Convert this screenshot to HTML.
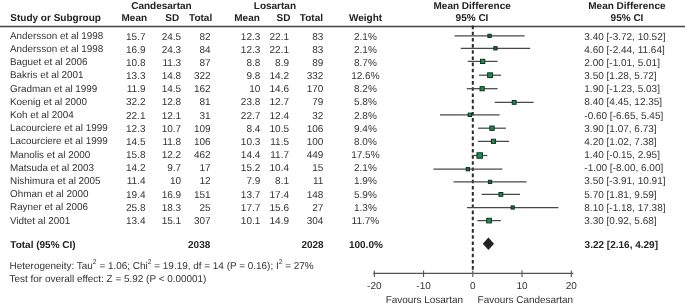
<!DOCTYPE html>
<html><head><meta charset="utf-8"><style>
html,body{margin:0;padding:0;background:#fff;width:685px;height:306px;overflow:hidden}
svg{display:block;will-change:transform}
text{font-family:"Liberation Sans",sans-serif}
</style></head><body>
<svg width="685" height="306" viewBox="0 0 685 306" text-rendering="geometricPrecision" font-size="10.0">
<rect width="685" height="306" fill="#fff"/>
<text x="161.45" y="9.00" text-anchor="middle" font-weight="bold" fill="#222">Candesartan</text>
<text x="274.90" y="9.00" text-anchor="middle" font-weight="bold" fill="#222">Losartan</text>
<text x="472.15" y="9.00" text-anchor="middle" font-weight="bold" fill="#222">Mean Difference</text>
<text x="626.90" y="9.00" text-anchor="middle" font-weight="bold" fill="#222">Mean Difference</text>
<text x="10.30" y="21.00" text-anchor="start" font-weight="bold" fill="#222">Study or Subgroup</text>
<text x="147.10" y="21.00" text-anchor="end" font-weight="bold" fill="#222">Mean</text>
<text x="179.20" y="21.00" text-anchor="end" font-weight="bold" fill="#222">SD</text>
<text x="212.20" y="21.00" text-anchor="end" font-weight="bold" fill="#222">Total</text>
<text x="259.80" y="21.00" text-anchor="end" font-weight="bold" fill="#222">Mean</text>
<text x="290.40" y="21.00" text-anchor="end" font-weight="bold" fill="#222">SD</text>
<text x="323.00" y="21.00" text-anchor="end" font-weight="bold" fill="#222">Total</text>
<text x="365.50" y="21.00" text-anchor="middle" font-weight="bold" fill="#222">Weight</text>
<text x="472.00" y="21.00" text-anchor="middle" font-weight="bold" fill="#222">95% CI</text>
<text x="627.00" y="21.00" text-anchor="middle" font-weight="bold" fill="#222">95% CI</text>
<line x1="0" y1="26.4" x2="685" y2="26.4" stroke="#444" stroke-width="1.5"/>
<line x1="472.8" y1="25.6" x2="472.8" y2="271" stroke="#2a2a2a" stroke-width="2.0" stroke-dasharray="3.6,2.566"/>
<text x="10.00" y="38.70" text-anchor="start" font-size="9.9" fill="#333">Andersson et al 1998</text>
<text x="145.50" y="39.50" text-anchor="end" font-size="10.0" fill="#333">15.7</text>
<text x="181.20" y="39.50" text-anchor="end" font-size="10.0" fill="#333">24.5</text>
<text x="210.70" y="39.50" text-anchor="end" font-size="10.0" fill="#333">82</text>
<text x="260.30" y="39.50" text-anchor="end" font-size="10.0" fill="#333">12.3</text>
<text x="289.00" y="39.50" text-anchor="end" font-size="10.0" fill="#333">22.1</text>
<text x="323.40" y="39.50" text-anchor="end" font-size="10.0" fill="#333">83</text>
<text x="365.40" y="39.50" text-anchor="middle" font-size="10.0" fill="#333">2.1%</text>
<text x="584.30" y="39.50" text-anchor="start" font-size="10.0" fill="#333">3.40 [-3.72, 10.52]</text>
<line x1="454.48" y1="35.90" x2="524.61" y2="35.90" stroke="#484848" stroke-width="1.25"/>
<rect x="487.90" y="34.25" width="3.29" height="3.29" fill="#1e6a45" stroke="#10301f" stroke-width="1.0"/>
<text x="10.00" y="51.91" text-anchor="start" font-size="9.9" fill="#333">Andersson et al 1998</text>
<text x="145.50" y="52.67" text-anchor="end" font-size="10.0" fill="#333">16.9</text>
<text x="181.20" y="52.67" text-anchor="end" font-size="10.0" fill="#333">24.3</text>
<text x="210.70" y="52.67" text-anchor="end" font-size="10.0" fill="#333">84</text>
<text x="260.30" y="52.67" text-anchor="end" font-size="10.0" fill="#333">12.3</text>
<text x="289.00" y="52.67" text-anchor="end" font-size="10.0" fill="#333">22.1</text>
<text x="323.40" y="52.67" text-anchor="end" font-size="10.0" fill="#333">83</text>
<text x="365.40" y="52.67" text-anchor="middle" font-size="10.0" fill="#333">2.1%</text>
<text x="584.30" y="52.67" text-anchor="start" font-size="10.0" fill="#333">4.60 [-2.44, 11.64]</text>
<line x1="460.78" y1="48.30" x2="530.13" y2="48.30" stroke="#484848" stroke-width="1.25"/>
<rect x="493.81" y="46.65" width="3.29" height="3.29" fill="#1e6a45" stroke="#10301f" stroke-width="1.0"/>
<text x="10.00" y="65.12" text-anchor="start" font-size="9.9" fill="#333">Baguet et al 2006</text>
<text x="145.50" y="65.84" text-anchor="end" font-size="10.0" fill="#333">10.8</text>
<text x="181.20" y="65.84" text-anchor="end" font-size="10.0" fill="#333">11.3</text>
<text x="210.70" y="65.84" text-anchor="end" font-size="10.0" fill="#333">87</text>
<text x="260.30" y="65.84" text-anchor="end" font-size="10.0" fill="#333">8.8</text>
<text x="289.00" y="65.84" text-anchor="end" font-size="10.0" fill="#333">8.9</text>
<text x="323.40" y="65.84" text-anchor="end" font-size="10.0" fill="#333">89</text>
<text x="365.40" y="65.84" text-anchor="middle" font-size="10.0" fill="#333">8.7%</text>
<text x="584.30" y="65.84" text-anchor="start" font-size="10.0" fill="#333">2.00 [-1.01, 5.01]</text>
<line x1="467.83" y1="61.40" x2="497.47" y2="61.40" stroke="#484848" stroke-width="1.25"/>
<rect x="480.54" y="59.29" width="4.22" height="4.22" fill="#1b8e53" stroke="#10301f" stroke-width="1.0"/>
<text x="10.00" y="78.33" text-anchor="start" font-size="9.9" fill="#333">Bakris et al 2001</text>
<text x="145.50" y="79.01" text-anchor="end" font-size="10.0" fill="#333">13.3</text>
<text x="181.20" y="79.01" text-anchor="end" font-size="10.0" fill="#333">14.8</text>
<text x="210.70" y="79.01" text-anchor="end" font-size="10.0" fill="#333">322</text>
<text x="260.30" y="79.01" text-anchor="end" font-size="10.0" fill="#333">9.8</text>
<text x="289.00" y="79.01" text-anchor="end" font-size="10.0" fill="#333">14.2</text>
<text x="323.40" y="79.01" text-anchor="end" font-size="10.0" fill="#333">332</text>
<text x="365.40" y="79.01" text-anchor="middle" font-size="10.0" fill="#333">12.6%</text>
<text x="584.30" y="79.01" text-anchor="start" font-size="10.0" fill="#333">3.50 [1.28, 5.72]</text>
<line x1="479.10" y1="75.20" x2="500.97" y2="75.20" stroke="#484848" stroke-width="1.25"/>
<rect x="487.66" y="72.82" width="4.76" height="4.76" fill="#1b8e53" stroke="#10301f" stroke-width="1.0"/>
<text x="10.00" y="91.54" text-anchor="start" font-size="9.9" fill="#333">Gradman et al 1999</text>
<text x="145.50" y="92.18" text-anchor="end" font-size="10.0" fill="#333">11.9</text>
<text x="181.20" y="92.18" text-anchor="end" font-size="10.0" fill="#333">14.5</text>
<text x="210.70" y="92.18" text-anchor="end" font-size="10.0" fill="#333">162</text>
<text x="260.30" y="92.18" text-anchor="end" font-size="10.0" fill="#333">10</text>
<text x="289.00" y="92.18" text-anchor="end" font-size="10.0" fill="#333">14.6</text>
<text x="323.40" y="92.18" text-anchor="end" font-size="10.0" fill="#333">170</text>
<text x="365.40" y="92.18" text-anchor="middle" font-size="10.0" fill="#333">8.2%</text>
<text x="584.30" y="92.18" text-anchor="start" font-size="10.0" fill="#333">1.90 [-1.23, 5.03]</text>
<line x1="466.74" y1="88.70" x2="497.57" y2="88.70" stroke="#484848" stroke-width="1.25"/>
<rect x="480.08" y="86.63" width="4.15" height="4.15" fill="#1b8e53" stroke="#10301f" stroke-width="1.0"/>
<text x="10.00" y="104.75" text-anchor="start" font-size="9.9" fill="#333">Koenig et al 2000</text>
<text x="145.50" y="105.35" text-anchor="end" font-size="10.0" fill="#333">32.2</text>
<text x="181.20" y="105.35" text-anchor="end" font-size="10.0" fill="#333">12.8</text>
<text x="210.70" y="105.35" text-anchor="end" font-size="10.0" fill="#333">81</text>
<text x="260.30" y="105.35" text-anchor="end" font-size="10.0" fill="#333">23.8</text>
<text x="289.00" y="105.35" text-anchor="end" font-size="10.0" fill="#333">12.7</text>
<text x="323.40" y="105.35" text-anchor="end" font-size="10.0" fill="#333">79</text>
<text x="365.40" y="105.35" text-anchor="middle" font-size="10.0" fill="#333">5.8%</text>
<text x="584.30" y="105.35" text-anchor="start" font-size="10.0" fill="#333">8.40 [4.45, 12.35]</text>
<line x1="494.72" y1="102.40" x2="533.62" y2="102.40" stroke="#484848" stroke-width="1.25"/>
<rect x="512.26" y="100.49" width="3.81" height="3.81" fill="#1b8e53" stroke="#10301f" stroke-width="1.0"/>
<text x="10.00" y="117.96" text-anchor="start" font-size="9.9" fill="#333">Koh et al 2004</text>
<text x="145.50" y="118.52" text-anchor="end" font-size="10.0" fill="#333">22.1</text>
<text x="181.20" y="118.52" text-anchor="end" font-size="10.0" fill="#333">12.1</text>
<text x="210.70" y="118.52" text-anchor="end" font-size="10.0" fill="#333">31</text>
<text x="260.30" y="118.52" text-anchor="end" font-size="10.0" fill="#333">22.7</text>
<text x="289.00" y="118.52" text-anchor="end" font-size="10.0" fill="#333">12.4</text>
<text x="323.40" y="118.52" text-anchor="end" font-size="10.0" fill="#333">32</text>
<text x="365.40" y="118.52" text-anchor="middle" font-size="10.0" fill="#333">2.8%</text>
<text x="584.30" y="118.52" text-anchor="start" font-size="10.0" fill="#333">-0.60 [-6.65, 5.45]</text>
<line x1="440.05" y1="114.80" x2="499.64" y2="114.80" stroke="#484848" stroke-width="1.25"/>
<rect x="468.15" y="113.10" width="3.39" height="3.39" fill="#1b8e53" stroke="#10301f" stroke-width="1.0"/>
<text x="10.00" y="131.17" text-anchor="start" font-size="9.9" fill="#333">Lacourciere et al 1999</text>
<text x="145.50" y="131.69" text-anchor="end" font-size="10.0" fill="#333">12.3</text>
<text x="181.20" y="131.69" text-anchor="end" font-size="10.0" fill="#333">10.7</text>
<text x="210.70" y="131.69" text-anchor="end" font-size="10.0" fill="#333">109</text>
<text x="260.30" y="131.69" text-anchor="end" font-size="10.0" fill="#333">8.4</text>
<text x="289.00" y="131.69" text-anchor="end" font-size="10.0" fill="#333">10.5</text>
<text x="323.40" y="131.69" text-anchor="end" font-size="10.0" fill="#333">106</text>
<text x="365.40" y="131.69" text-anchor="middle" font-size="10.0" fill="#333">9.4%</text>
<text x="584.30" y="131.69" text-anchor="start" font-size="10.0" fill="#333">3.90 [1.07, 6.73]</text>
<line x1="478.07" y1="128.20" x2="505.95" y2="128.20" stroke="#484848" stroke-width="1.25"/>
<rect x="489.85" y="126.04" width="4.32" height="4.32" fill="#1b8e53" stroke="#10301f" stroke-width="1.0"/>
<text x="10.00" y="144.38" text-anchor="start" font-size="9.9" fill="#333">Lacourciere et al 1999</text>
<text x="145.50" y="144.86" text-anchor="end" font-size="10.0" fill="#333">14.5</text>
<text x="181.20" y="144.86" text-anchor="end" font-size="10.0" fill="#333">11.8</text>
<text x="210.70" y="144.86" text-anchor="end" font-size="10.0" fill="#333">106</text>
<text x="260.30" y="144.86" text-anchor="end" font-size="10.0" fill="#333">10.3</text>
<text x="289.00" y="144.86" text-anchor="end" font-size="10.0" fill="#333">11.5</text>
<text x="323.40" y="144.86" text-anchor="end" font-size="10.0" fill="#333">100</text>
<text x="365.40" y="144.86" text-anchor="middle" font-size="10.0" fill="#333">8.0%</text>
<text x="584.30" y="144.86" text-anchor="start" font-size="10.0" fill="#333">4.20 [1.02, 7.38]</text>
<line x1="477.82" y1="141.30" x2="509.15" y2="141.30" stroke="#484848" stroke-width="1.25"/>
<rect x="491.43" y="139.24" width="4.12" height="4.12" fill="#1b8e53" stroke="#10301f" stroke-width="1.0"/>
<text x="10.00" y="157.59" text-anchor="start" font-size="9.9" fill="#333">Manolis et al 2000</text>
<text x="145.50" y="158.03" text-anchor="end" font-size="10.0" fill="#333">15.8</text>
<text x="181.20" y="158.03" text-anchor="end" font-size="10.0" fill="#333">12.2</text>
<text x="210.70" y="158.03" text-anchor="end" font-size="10.0" fill="#333">462</text>
<text x="260.30" y="158.03" text-anchor="end" font-size="10.0" fill="#333">14.4</text>
<text x="289.00" y="158.03" text-anchor="end" font-size="10.0" fill="#333">11.7</text>
<text x="323.40" y="158.03" text-anchor="end" font-size="10.0" fill="#333">449</text>
<text x="365.40" y="158.03" text-anchor="middle" font-size="10.0" fill="#333">17.5%</text>
<text x="584.30" y="158.03" text-anchor="start" font-size="10.0" fill="#333">1.40 [-0.15, 2.95]</text>
<line x1="472.06" y1="155.50" x2="487.33" y2="155.50" stroke="#484848" stroke-width="1.25"/>
<rect x="476.97" y="152.78" width="5.45" height="5.45" fill="#1b8e53" stroke="#10301f" stroke-width="1.0"/>
<text x="10.00" y="170.80" text-anchor="start" font-size="9.9" fill="#333">Matsuda et al 2003</text>
<text x="145.50" y="171.20" text-anchor="end" font-size="10.0" fill="#333">14.2</text>
<text x="181.20" y="171.20" text-anchor="end" font-size="10.0" fill="#333">9.7</text>
<text x="210.70" y="171.20" text-anchor="end" font-size="10.0" fill="#333">17</text>
<text x="260.30" y="171.20" text-anchor="end" font-size="10.0" fill="#333">15.2</text>
<text x="289.00" y="171.20" text-anchor="end" font-size="10.0" fill="#333">10.4</text>
<text x="323.40" y="171.20" text-anchor="end" font-size="10.0" fill="#333">15</text>
<text x="365.40" y="171.20" text-anchor="middle" font-size="10.0" fill="#333">2.1%</text>
<text x="584.30" y="171.20" text-anchor="start" font-size="10.0" fill="#333">-1.00 [-8.00, 6.00]</text>
<line x1="433.40" y1="169.20" x2="502.35" y2="169.20" stroke="#484848" stroke-width="1.25"/>
<rect x="466.23" y="167.55" width="3.29" height="3.29" fill="#1e6a45" stroke="#10301f" stroke-width="1.0"/>
<text x="10.00" y="184.01" text-anchor="start" font-size="9.9" fill="#333">Nishimura et al 2005</text>
<text x="145.50" y="184.37" text-anchor="end" font-size="10.0" fill="#333">11.4</text>
<text x="181.20" y="184.37" text-anchor="end" font-size="10.0" fill="#333">10</text>
<text x="210.70" y="184.37" text-anchor="end" font-size="10.0" fill="#333">12</text>
<text x="260.30" y="184.37" text-anchor="end" font-size="10.0" fill="#333">7.9</text>
<text x="289.00" y="184.37" text-anchor="end" font-size="10.0" fill="#333">8.1</text>
<text x="323.40" y="184.37" text-anchor="end" font-size="10.0" fill="#333">11</text>
<text x="365.40" y="184.37" text-anchor="middle" font-size="10.0" fill="#333">1.9%</text>
<text x="584.30" y="184.37" text-anchor="start" font-size="10.0" fill="#333">3.50 [-3.91, 10.91]</text>
<line x1="453.54" y1="181.90" x2="526.53" y2="181.90" stroke="#484848" stroke-width="1.25"/>
<rect x="488.40" y="180.27" width="3.27" height="3.27" fill="#1e6a45" stroke="#10301f" stroke-width="1.0"/>
<text x="10.00" y="197.22" text-anchor="start" font-size="9.9" fill="#333">Ohman et al 2000</text>
<text x="145.50" y="197.54" text-anchor="end" font-size="10.0" fill="#333">19.4</text>
<text x="181.20" y="197.54" text-anchor="end" font-size="10.0" fill="#333">16.9</text>
<text x="210.70" y="197.54" text-anchor="end" font-size="10.0" fill="#333">151</text>
<text x="260.30" y="197.54" text-anchor="end" font-size="10.0" fill="#333">13.7</text>
<text x="289.00" y="197.54" text-anchor="end" font-size="10.0" fill="#333">17.4</text>
<text x="323.40" y="197.54" text-anchor="end" font-size="10.0" fill="#333">148</text>
<text x="365.40" y="197.54" text-anchor="middle" font-size="10.0" fill="#333">5.9%</text>
<text x="584.30" y="197.54" text-anchor="start" font-size="10.0" fill="#333">5.70 [1.81, 9.59]</text>
<line x1="481.71" y1="194.40" x2="520.03" y2="194.40" stroke="#484848" stroke-width="1.25"/>
<rect x="498.96" y="192.49" width="3.83" height="3.83" fill="#1b8e53" stroke="#10301f" stroke-width="1.0"/>
<text x="10.00" y="210.43" text-anchor="start" font-size="9.9" fill="#333">Rayner et al 2006</text>
<text x="145.50" y="210.71" text-anchor="end" font-size="10.0" fill="#333">25.8</text>
<text x="181.20" y="210.71" text-anchor="end" font-size="10.0" fill="#333">18.3</text>
<text x="210.70" y="210.71" text-anchor="end" font-size="10.0" fill="#333">25</text>
<text x="260.30" y="210.71" text-anchor="end" font-size="10.0" fill="#333">17.7</text>
<text x="289.00" y="210.71" text-anchor="end" font-size="10.0" fill="#333">15.6</text>
<text x="323.40" y="210.71" text-anchor="end" font-size="10.0" fill="#333">27</text>
<text x="365.40" y="210.71" text-anchor="middle" font-size="10.0" fill="#333">1.3%</text>
<text x="584.30" y="210.71" text-anchor="start" font-size="10.0" fill="#333">8.10 [-1.18, 17.38]</text>
<line x1="466.99" y1="207.50" x2="558.40" y2="207.50" stroke="#484848" stroke-width="1.25"/>
<rect x="511.10" y="205.91" width="3.18" height="3.18" fill="#1e6a45" stroke="#10301f" stroke-width="1.0"/>
<text x="10.00" y="223.64" text-anchor="start" font-size="9.9" fill="#333">Vidtet al 2001</text>
<text x="145.50" y="223.88" text-anchor="end" font-size="10.0" fill="#333">13.4</text>
<text x="181.20" y="223.88" text-anchor="end" font-size="10.0" fill="#333">15.1</text>
<text x="210.70" y="223.88" text-anchor="end" font-size="10.0" fill="#333">307</text>
<text x="260.30" y="223.88" text-anchor="end" font-size="10.0" fill="#333">10.1</text>
<text x="289.00" y="223.88" text-anchor="end" font-size="10.0" fill="#333">14.9</text>
<text x="323.40" y="223.88" text-anchor="end" font-size="10.0" fill="#333">304</text>
<text x="365.40" y="223.88" text-anchor="middle" font-size="10.0" fill="#333">11.7%</text>
<text x="584.30" y="223.88" text-anchor="start" font-size="10.0" fill="#333">3.30 [0.92, 5.68]</text>
<line x1="477.33" y1="220.60" x2="500.77" y2="220.60" stroke="#484848" stroke-width="1.25"/>
<rect x="486.73" y="218.28" width="4.64" height="4.64" fill="#1b8e53" stroke="#10301f" stroke-width="1.0"/>
<text x="10.30" y="248.00" text-anchor="start" font-weight="bold" fill="#222">Total (95% CI)</text>
<text x="210.30" y="248.00" text-anchor="end" font-weight="bold" fill="#222">2038</text>
<text x="323.70" y="248.00" text-anchor="end" font-weight="bold" fill="#222">2028</text>
<text x="365.90" y="248.00" text-anchor="middle" font-weight="bold" fill="#222">100.0%</text>
<text x="584.60" y="248.00" text-anchor="start" font-weight="bold" fill="#222">3.22 [2.16, 4.29]</text>
<polygon points="482.8,243.7 488.4,237.6 494.0,243.7 488.4,249.89999999999998" fill="#222"/>
<text x="9.60" y="269.00" text-anchor="start" font-size="9.95" fill="#333">Heterogeneity: Tau<tspan font-size="6.8" dy="-4.6">2</tspan><tspan dy="4.6"> = 1.06; Chi</tspan><tspan font-size="6.8" dy="-4.6">2</tspan><tspan dy="4.6"> = 19.19, df = 14 (P = 0.16); I</tspan><tspan font-size="6.8" dy="-4.6">2</tspan><tspan dy="4.6"> = 27%</tspan></text>
<text x="9.60" y="282.00" text-anchor="start" font-size="9.95" fill="#333">Test for overall effect: Z = 5.92 (P &lt; 0.00001)</text>
<line x1="373.30" y1="273.4" x2="573.30" y2="273.4" stroke="#555" stroke-width="1.2"/>
<line x1="374.30" y1="270.59999999999997" x2="374.30" y2="277.0" stroke="#555" stroke-width="1.1"/>
<text x="374.30" y="289.40" text-anchor="middle" font-size="10.0" fill="#333">-20</text>
<line x1="423.55" y1="270.59999999999997" x2="423.55" y2="277.0" stroke="#555" stroke-width="1.1"/>
<text x="423.55" y="289.40" text-anchor="middle" font-size="10.0" fill="#333">-10</text>
<line x1="472.80" y1="270.59999999999997" x2="472.80" y2="277.0" stroke="#555" stroke-width="1.1"/>
<text x="472.80" y="289.40" text-anchor="middle" font-size="10.0" fill="#333">0</text>
<line x1="522.05" y1="270.59999999999997" x2="522.05" y2="277.0" stroke="#555" stroke-width="1.1"/>
<text x="522.05" y="289.40" text-anchor="middle" font-size="10.0" fill="#333">10</text>
<line x1="571.30" y1="270.59999999999997" x2="571.30" y2="277.0" stroke="#555" stroke-width="1.1"/>
<text x="571.30" y="289.40" text-anchor="middle" font-size="10.0" fill="#333">20</text>
<text x="424.30" y="303.40" text-anchor="middle" font-size="9.95" fill="#333">Favours Losartan</text>
<text x="525.35" y="303.40" text-anchor="middle" font-size="9.95" fill="#333">Favours Candesartan</text>
</svg>
</body></html>
